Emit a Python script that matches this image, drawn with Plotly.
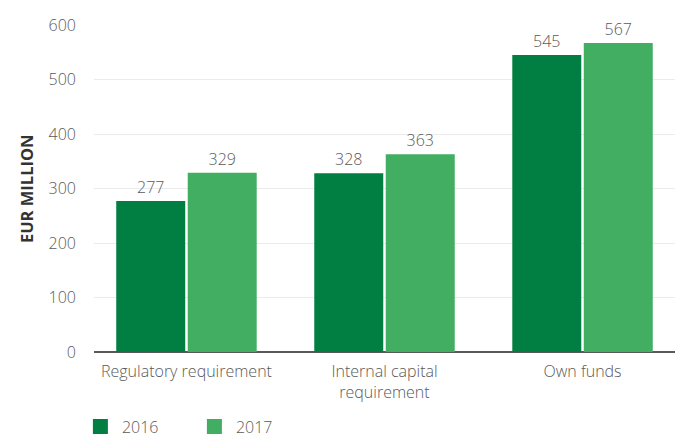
import plotly.graph_objects as go

categories = ["Regulatory requirement", "Internal capital<br>requirement", "Own funds"]
years = ["2016", "2017"]
values_2016 = [277, 328, 545]
values_2017 = [329, 363, 567]
y_ticks = [0, 100, 200, 300, 400, 500, 600]

dark_green = "#017F42"
light_green = "#41AE62"
text_grey = "#5A5A5A"
font_family = "Open Sans, Segoe UI, sans-serif"
light_font = dict(family=font_family, size=16, color=text_grey, weight=300)

fig = go.Figure()
for name, vals, col in [(years[0], values_2016, dark_green), (years[1], values_2017, light_green)]:
    fig.add_trace(go.Bar(
        x=categories, y=vals, name=name, marker_color=col, marker_line_width=0,
        text=[str(v) for v in vals], textposition="outside",
        textfont=light_font, cliponaxis=False, showlegend=False,
    ))
    # legend entry with a larger square swatch
    fig.add_trace(go.Scatter(
        x=[None], y=[None], mode="markers", name=name,
        marker=dict(symbol="square", size=15, color=col),
        showlegend=True,
    ))

fig.update_layout(
    width=676, height=437,
    margin=dict(l=94, r=1, t=25, b=85, autoexpand=False),
    paper_bgcolor="white", plot_bgcolor="white",
    barmode="group", bargap=0.278, bargroupgap=0.035,
    font=light_font,
    showlegend=True,
    legend=dict(
        orientation="h", x=-0.026, xanchor="left", y=-0.176, yanchor="top",
        font=light_font, entrywidth=66, entrywidthmode="pixels",
        itemwidth=33, bgcolor="rgba(0,0,0,0)",
    ),
    xaxis=dict(
        range=[-0.467, 2.467], showgrid=False, showline=False, zeroline=False,
        ticks="", ticklabelstandoff=8, tickfont=light_font,
    ),
    yaxis=dict(
        range=[0, 600], tickvals=y_ticks, showgrid=True, gridcolor="#EBEBEB", gridwidth=1,
        zeroline=True, zerolinecolor="#595959", zerolinewidth=1.5, showline=False,
        ticks="", ticklabelstandoff=17, tickfont=light_font,
    ),
    annotations=[dict(
        text="<b>EUR MILLION</b>", textangle=-90, xref="paper", yref="paper",
        x=-0.116, y=0.5, xanchor="center", yanchor="middle", showarrow=False,
        font=dict(size=16.5, color="#333333", family=font_family),
    )],
)

fig.write_html("out.html")
